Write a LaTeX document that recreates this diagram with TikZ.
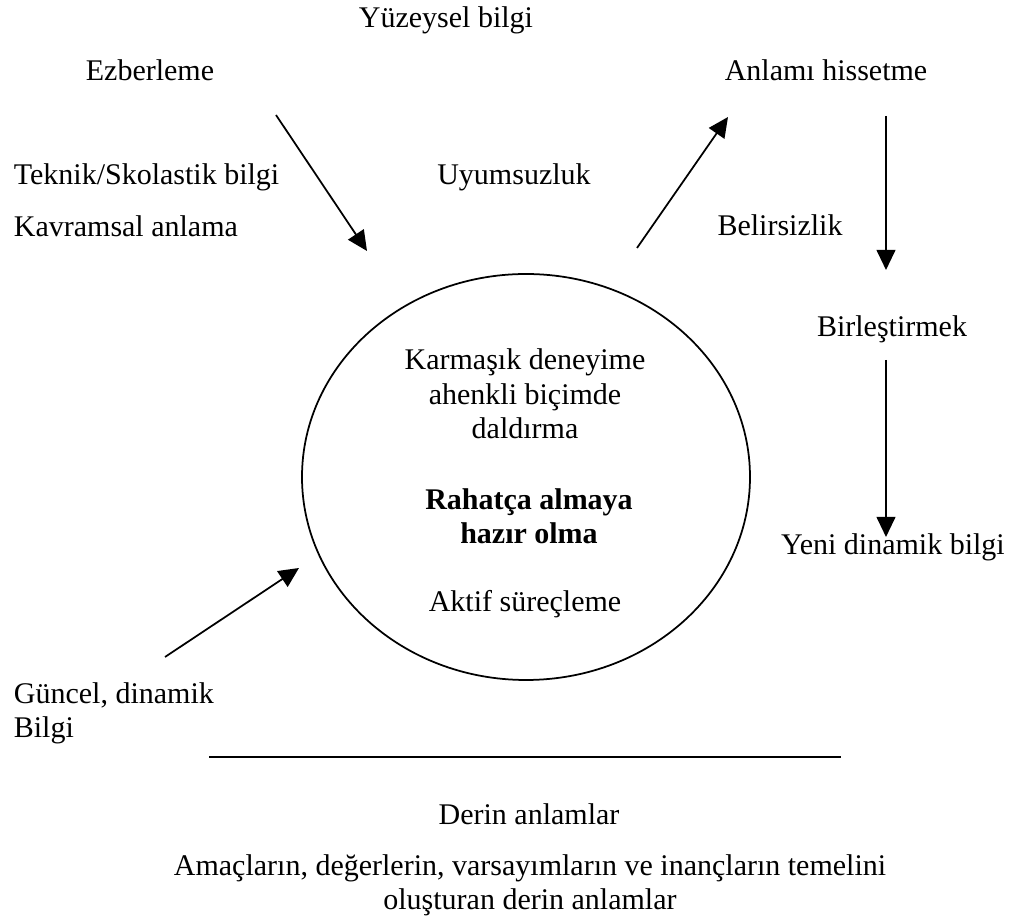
\documentclass[tikz,border=0pt]{standalone}
\usepackage{fontspec}
\setmainfont{Liberation Serif}
\usetikzlibrary{shapes.geometric, arrows.meta}

\begin{document}
\begin{tikzpicture}[x=0.4pt, y=-0.4pt, line width=0.7pt, >={Triangle[length=8pt, width=7.5pt]},
  every node/.style={font=\fontsize{12}{13.8}\selectfont, inner sep=0pt},
  lbl/.style={anchor=base},
  lbll/.style={anchor=base west},
  block/.style={anchor=base, align=center}]
                \useasboundingbox (0,0) rectangle (1022,918);

                % labels round the ring
                \node[lbl] (yuzey) at (446,28) {Yüzeysel bilgi};
                \node[lbl] (ezber) at (150,81) {Ezberleme};
                \node[lbl] (anlam) at (826,81) {Anlamı hissetme};
                \node[lbll] (teknik) at (13,185) {Teknik/Skolastik bilgi};
                \node[lbl] (uyum) at (514,185) {Uyumsuzluk};
                \node[lbll] (kavram) at (13,237) {Kavramsal anlama};
                \node[lbl] (belir) at (780,236) {Belirsizlik};
                \node[lbl] (birles) at (892,337) {Birleştirmek};
                \node[lbl] (yeni) at (893,555) {Yeni dinamik bilgi};
                % base of a block = its last line
                \node[anchor=base west, align=left] (guncel) at (13,738) {Güncel, dinamik\\Bilgi};

                % the ring
                \node[ellipse, draw, minimum width=179.2pt, minimum height=162.4pt] (ring) at (526,477) {};
                \node[block] (daldir) at (525,439) {Karmaşık deneyime\\ahenkli biçimde\\daldırma};
                \node[block, font=\fontsize{12}{13.8}\selectfont\bfseries] (rahat) at (529,544) {Rahatça almaya\\hazır olma};
                \node[lbl] (aktif) at (525,612) {Aktif süreçleme};

                % below the line
                \coordinate (cizgiA) at (209,757);
                \coordinate (cizgiB) at (841,757);
                \node[lbl] (derin) at (529,825) {Derin anlamlar};
                \node[block] (amac) at (530,910) {Amaçların, değerlerin, varsayımların ve inançların temelini\\oluşturan derin anlamlar};

                % arrow ends
                \coordinate (e1) at (276,115);
                \coordinate (e2) at (367,251);
                \coordinate (h1) at (637,248);
                \coordinate (h2) at (728,117);
                \coordinate (b1) at (886,116);
                \coordinate (b2) at (886,270);
                \coordinate (y1) at (886,360);
                \coordinate (y2) at (886,537);
                \coordinate (g1) at (165,657);
                \coordinate (g2) at (299,568);

                \draw (cizgiA) -- (cizgiB);
                \path[->]
                (e1) edge (e2)
                (h1) edge (h2)
                (b1) edge (b2)
                (y1) edge (y2)
                (g1) edge (g2);
\end{tikzpicture}
\end{document}
